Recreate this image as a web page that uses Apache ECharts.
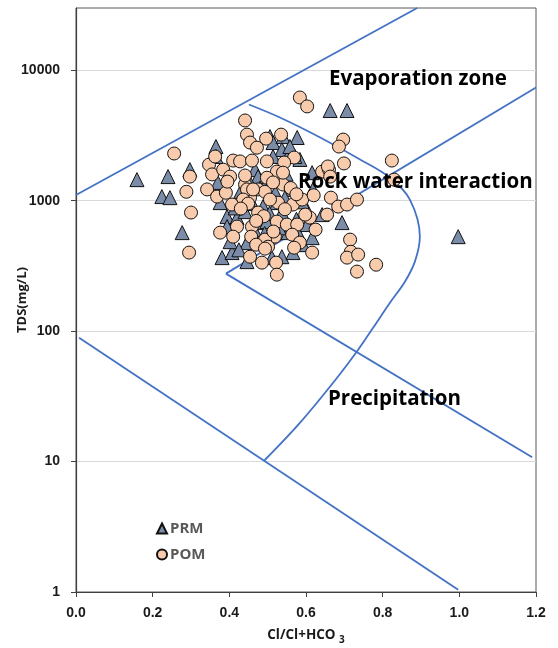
<!DOCTYPE html>
<html>
<head>
<meta charset="utf-8">
<script src="https://cdn.jsdelivr.net/npm/echarts@6/dist/echarts.min.js"></script>
<style>html,body{margin:0;padding:0;background:#fff}#c{width:558px;height:648px}</style>
</head>
<body>
<div id="c"></div>
<script>
// ---- data ----
const yTickValues = [1, 10, 100, 1000, 10000];
const xTickLabels = ['0.0', '0.2', '0.4', '0.6', '0.8', '1.0', '1.2'];

const prmX = [0.159,0.240,0.224,0.245,0.297,0.277,0.365,0.365,0.370,0.376,0.394,0.394,0.381,0.407,0.402,0.420,0.441,0.446,0.472,0.467,0.475,0.506,0.514,0.540,0.537,0.558,0.577,0.584,0.514,0.524,0.488,0.498,0.537,0.553,0.579,0.592,0.616,0.616,0.618,0.446,0.511,0.537,0.566,0.663,0.707,0.603,0.642,0.571,0.558,0.564,0.694,0.997,0.430,0.455,0.480,0.500,0.520,0.545,0.600,0.465,0.440,0.492,0.530,0.575,0.415,0.455,0.505,0.548,0.590,0.425];
const prmY = [1450,1530,1075,1055,1730,569,2600,2180,1380,966,755,633,366,400,485,742,824,477,679,1730,1530,3100,2790,3100,2470,2340,3050,2070,2180,966,901,691,811,569,569,460,521,1640,1220,341,366,372,400,4910,4910,656,782,2180,2600,1220,679,530,1180,1020,1250,1420,1150,1050,880,600,950,560,620,720,880,1350,800,1600,980,420];

const pomX = [0.256,0.297,0.288,0.300,0.295,0.342,0.347,0.363,0.355,0.384,0.402,0.368,0.391,0.376,0.410,0.428,0.441,0.446,0.454,0.472,0.459,0.441,0.454,0.441,0.496,0.535,0.569,0.584,0.603,0.543,0.498,0.524,0.498,0.475,0.493,0.540,0.527,0.566,0.590,0.506,0.475,0.420,0.410,0.459,0.457,0.524,0.550,0.577,0.564,0.519,0.493,0.470,0.501,0.584,0.616,0.569,0.493,0.454,0.485,0.522,0.524,0.610,0.642,0.660,0.598,0.446,0.514,0.436,0.449,0.697,0.686,0.699,0.824,0.830,0.665,0.684,0.707,0.733,0.655,0.715,0.717,0.707,0.736,0.733,0.783,0.657,0.663,0.540,0.462,0.407,0.430,0.560,0.575,0.490,0.620,0.625,0.515,0.470,0.395,0.545];
const pomY = [2300,1530,1170,811,400,1220,1890,2180,1590,1730,1530,1075,1150,569,2030,2000,4120,3210,2790,2550,2030,1330,1055,1560,2990,3210,2140,6180,5280,1960,2000,1670,1500,1220,1170,1330,966,934,1020,1020,811,633,530,633,530,691,656,656,549,530,503,460,444,477,400,436,429,372,335,335,271,742,1670,1730,782,1220,1380,1020,950,2940,2600,1930,2030,1450,1055,901,934,1020,782,503,406,366,386,286,323,1830,1530,1640,1220,934,870,1250,1120,760,1100,600,580,700,1400,860];

// Gibbs boundary lines
const lineAX = [0.0, 0.89];
const lineAY = [1104, 30000];
const lineCX = [0.391, 1.2];
const lineCY = [276, 7380];
const lineDX = [0.391, 1.19];
const lineDY = [276, 10.8];
const lineEX = [0.008, 0.997];
const lineEY = [89, 1.04];
const curveX = [0.451,0.532,0.637,0.741,0.819,0.871,0.897,0.884,0.858,0.819,0.775,0.736,0.681,0.584,0.490];
const curveY = [5460,4340,3050,2070,1500,1020,530,341,239,165,106,72,43.9,19.8,10.1];

const zip = (xs, ys) => xs.map((x, i) => [x, ys[i]]);

const lineStyle = { color: '#4472C4', width: 1.8 };
const lineSeries = (xs, ys, smooth) => ({
  type: 'line', data: zip(xs, ys), symbol: 'none', smooth: smooth ? 0.35 : false,
  lineStyle: lineStyle, silent: true, z: 1, animation: false
});

const chart = echarts.init(document.getElementById('c'), null, { renderer: 'canvas' });
const numFont = '"Liberation Sans", Arial, sans-serif';
const txtFont = '"Open Sans", "Noto Sans", sans-serif';

chart.setOption({
  animation: false,
  backgroundColor: '#ffffff',
  grid: { left: 76, right: 22, top: 8, bottom: 56, show: true, borderColor: '#595959', borderWidth: 1, containLabel: false, outerBoundsMode: 'none' },
  xAxis: {
    type: 'value', min: 0, max: 1.2, interval: 0.2,
    axisLine: { show: true, onZero: false, lineStyle: { color: '#404040', width: 1.2 } },
    axisTick: { show: true, inside: false, length: 5, lineStyle: { color: '#404040' } },
    splitLine: { show: false },
    axisLabel: {
      margin: 14, color: '#1a1a1a', fontFamily: numFont, fontWeight: 'bold', fontSize: 14,
      formatter: (v) => xTickLabels[Math.round(v / 0.2)] || ''
    },
    name: '{a|Cl/Cl+HCO }{s|3}', nameLocation: 'middle', nameGap: 33, nameMoveOverlap: false,
    nameTextStyle: {
      rich: {
        a: { fontFamily: txtFont, fontWeight: 'bold', fontSize: 13.5, color: '#1a1a1a' },
        s: { fontFamily: txtFont, fontWeight: 'bold', fontSize: 10, color: '#1a1a1a', padding: [10, 0, 0, 0] }
      }
    }
  },
  yAxis: {
    type: 'log', logBase: 10, min: 1, max: 30000,
    axisLine: { show: true, onZero: false, lineStyle: { color: '#404040', width: 1.2 } },
    axisTick: { show: true, inside: false, length: 5, lineStyle: { color: '#404040' }, customValues: yTickValues },
    splitLine: { show: true, lineStyle: { color: '#d9d9d9', width: 1 } },
    axisLabel: {
      margin: 16, color: '#1a1a1a', fontFamily: numFont, fontWeight: 'bold', fontSize: 14,
      customValues: yTickValues,
      formatter: (v) => {
        const l = Math.log10(v);
        return Math.abs(l - Math.round(l)) < 1e-6 ? String(Math.round(v)) : '';
      }
    },
    name: 'TDS(mg/L)', nameLocation: 'middle', nameGap: 47, nameRotate: 90, nameMoveOverlap: false,
    nameTextStyle: { fontFamily: txtFont, fontWeight: 'bold', fontSize: 13, color: '#1a1a1a' }
  },
  legend: {
    data: ['PRM', 'POM'], orient: 'vertical', left: 151, top: 516,
    itemWidth: 10, itemHeight: 10, itemGap: 11,
    textStyle: { fontFamily: txtFont, fontWeight: 'bold', fontSize: 15, color: '#595959', padding: [0, 0, 0, -2] }
  },
  series: [
    lineSeries(lineAX, lineAY, false),
    lineSeries(lineCX, lineCY, false),
    lineSeries(lineDX, lineDY, false),
    lineSeries(lineEX, lineEY, false),
    lineSeries(curveX, curveY, true),
    {
      name: 'PRM', type: 'scatter', symbol: 'triangle', symbolSize: 14, z: 3,
      data: zip(prmX, prmY),
      itemStyle: { color: '#7A8CA8', borderColor: '#111', borderWidth: 1, opacity: 1 }
    },
    {
      name: 'POM', type: 'scatter', symbol: 'circle', symbolSize: 13, z: 4,
      data: zip(pomX, pomY),
      itemStyle: { color: '#F8CBAD', borderColor: '#111', borderWidth: 1, opacity: 1 }
    }
  ],
  graphic: [
    { type: 'text', z: 100, left: 329, top: 69, style: { text: 'Evaporation zone', font: 'bold 20.5px ' + txtFont, fill: '#000' } },
    { type: 'text', z: 100, left: 298, top: 172, style: { text: 'Rock water interaction', font: 'bold 20.5px ' + txtFont, fill: '#000' } },
    { type: 'text', z: 100, left: 328, top: 389, style: { text: 'Precipitation', font: 'bold 20.5px ' + txtFont, fill: '#000' } }
  ]
});
</script>
</body>
</html>
